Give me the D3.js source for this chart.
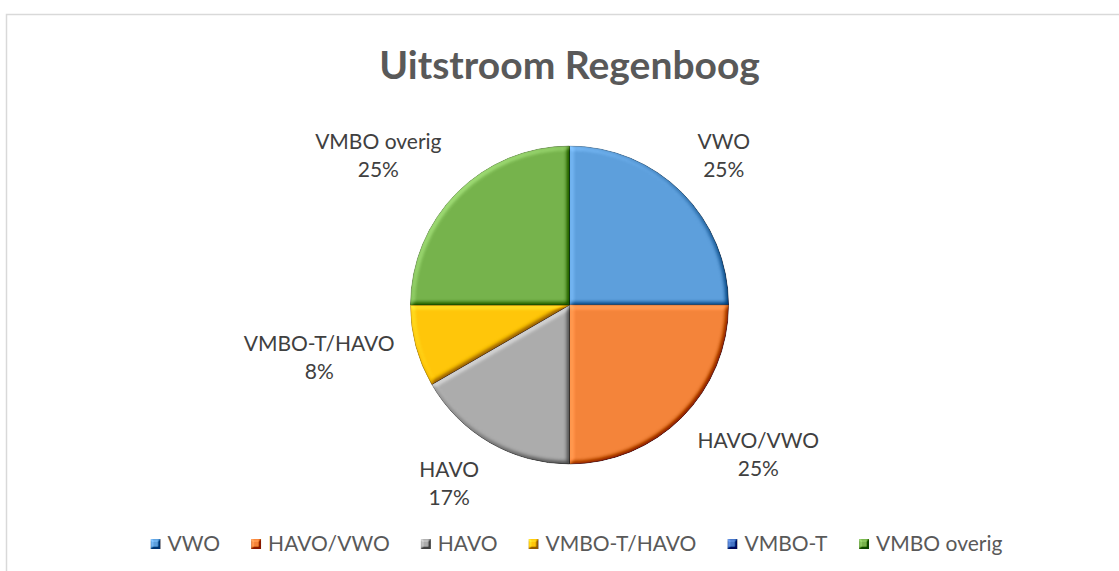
<!DOCTYPE html>
<html>
  <head>
    <meta charset="utf-8">
    <title>Uitstroom Regenboog</title>
    <script src="https://d3js.org/d3.v7.min.js" charset="utf-8"></script>
    <style>
      body { margin: 0; background: #fff; }
      text { font-family: Lato, "Open Sans", sans-serif; }
    </style>
  </head>
  <body>
    <div id="chart"></div>

    <script>
      const title = "Uitstroom Regenboog";
      const categories = ["VWO", "HAVO/VWO", "HAVO", "VMBO-T/HAVO", "VMBO-T", "VMBO overig"];
      const counts = [3, 3, 2, 1, 0, 3];
      const colors = ["#5d9fdc", "#f4843a", "#acacac", "#ffc60a", "#4674c6", "#76b34c"];

      const outerWidth = 1119;
      const outerHeight = 571;

      // chart area (it runs a bit past the right edge of the picture)
      const box = { left: 6.5, top: 14.5, width: 1126, height: 620 };
      const cx = box.left + box.width / 2;
      const cy = 305;
      const radius = 159;

      const svg = d3.select("#chart")
        .append("svg")
        .attr("width", outerWidth)
        .attr("height", outerHeight);

      const defs = svg.append("defs");

      // bevel look, roughly what Excel does
      const makeBevel = (id, blur, k) => {
        const f = defs.append("filter")
          .attr("id", id)
          .attr("x", "-10%").attr("y", "-10%")
          .attr("width", "120%").attr("height", "120%")
          .attr("color-interpolation-filters", "sRGB");
        f.append("feGaussianBlur")
          .attr("in", "SourceAlpha")
          .attr("stdDeviation", blur)
          .attr("result", "blur");
        f.append("feDiffuseLighting")
          .attr("in", "blur")
          .attr("surfaceScale", 4)
          .attr("diffuseConstant", 1)
          .attr("lighting-color", "#fff")
          .attr("result", "light")
          .append("feDistantLight")
          .attr("azimuth", 225)
          .attr("elevation", 45);
        f.append("feComposite")
          .attr("in", "SourceGraphic")
          .attr("in2", "light")
          .attr("operator", "arithmetic")
          .attr("k1", 0).attr("k2", 1)
          .attr("k3", k).attr("k4", -k * Math.SQRT1_2)
          .attr("result", "lit");
        f.append("feComposite")
          .attr("in", "lit")
          .attr("in2", "SourceAlpha")
          .attr("operator", "in");
      };
      makeBevel("bevel", 2.5, 0.5);
      makeBevel("bevelSmall", 1, 0.6);

      svg.append("rect")
        .attr("x", box.left)
        .attr("y", box.top)
        .attr("width", box.width)
        .attr("height", box.height)
        .attr("fill", "#fff")
        .attr("stroke", "#d9d9d9")
        .attr("stroke-width", 1.5);

      svg.append("text")
        .attr("x", cx)
        .attr("y", 79)
        .attr("text-anchor", "middle")
        .attr("font-size", 39)
        .attr("font-weight", "bold")
        .attr("fill", "#595959")
        .text(title);

      const color = d3.scaleOrdinal().domain(categories).range(colors);
      const total = d3.sum(counts);
      const pct = d3.format(".0%");

      const data = categories.map((c, i) => ({ name: c, value: counts[i] }));

      const pie = d3.pie().sort(null).value(d => d.value);
      const arc = d3.arc().innerRadius(0).outerRadius(radius);
      const arcs = pie(data);

      const g = svg.append("g")
        .attr("transform", "translate(" + cx + "," + cy + ")");

      g.selectAll(".slice")
        .data(arcs.filter(d => d.data.value > 0))
        .enter().append("path")
        .classed("slice", true)
        .attr("d", arc)
        .attr("fill", d => color(d.data.name))
        .attr("stroke", d => d3.color(color(d.data.name)).darker(0.8))
        .attr("stroke-width", 0.8)
        .attr("filter", "url(#bevel)");

      // data labels, "best fit": the side of the text box facing the pie
      // sits on the mid-angle ray, a little outside the rim
      const fontSize = 21;
      const capH = 15;
      const lineH = 28;
      const anchorDist = radius + 22;
      const labels = g.selectAll(".label")
        .data(arcs.filter(d => d.data.value > 0))
        .enter().append("text")
        .classed("label", true)
        .attr("text-anchor", "middle")
        .attr("font-size", fontSize)
        .attr("fill", "#404040");
      labels.append("tspan").attr("x", 0).attr("dy", 0).text(d => d.data.name);
      labels.append("tspan").attr("x", 0).attr("dy", lineH).text(d => pct(d.data.value / total));

      labels.each(function (d) {
        const w = this.getBBox().width;
        const h = lineH + capH;
        const a = (d.startAngle + d.endAngle) / 2;
        const ux = Math.sin(a), uy = -Math.cos(a);
        const m = Math.max(Math.abs(ux), Math.abs(uy));
        const ax = anchorDist * ux, ay = anchorDist * uy;
        const bx = ax + Math.sign(ux) * w / 2;
        const by = ay + (uy / m) * h / 2;
        d3.select(this).attr("transform",
          "translate(" + bx + "," + (by - h / 2 + capH) + ")");
      });

      // legend
      const legendGap = 31;
      const legend = svg.append("g");
      const items = legend.selectAll(".legend")
        .data(categories)
        .enter().append("g")
        .classed("legend", true);
      items.append("rect")
        .attr("x", 0)
        .attr("y", -12)
        .attr("width", 10)
        .attr("height", 10)
        .attr("fill", color)
        .attr("filter", "url(#bevelSmall)");
      items.append("text")
        .attr("x", 17)
        .attr("y", 0)
        .attr("font-size", 21)
        .attr("fill", "#595959")
        .text(d => d);

      let offset = 0;
      const positions = [];
      items.each(function () {
        positions.push(offset);
        offset += this.getBBox().width + legendGap;
      });
      const legendWidth = offset - legendGap;
      items.attr("transform", (d, i) => "translate(" + positions[i] + ",0)");
      legend.attr("transform", "translate(" + (cx + 7 - legendWidth / 2) + ",551)");
    </script>
  </body>
</html>
